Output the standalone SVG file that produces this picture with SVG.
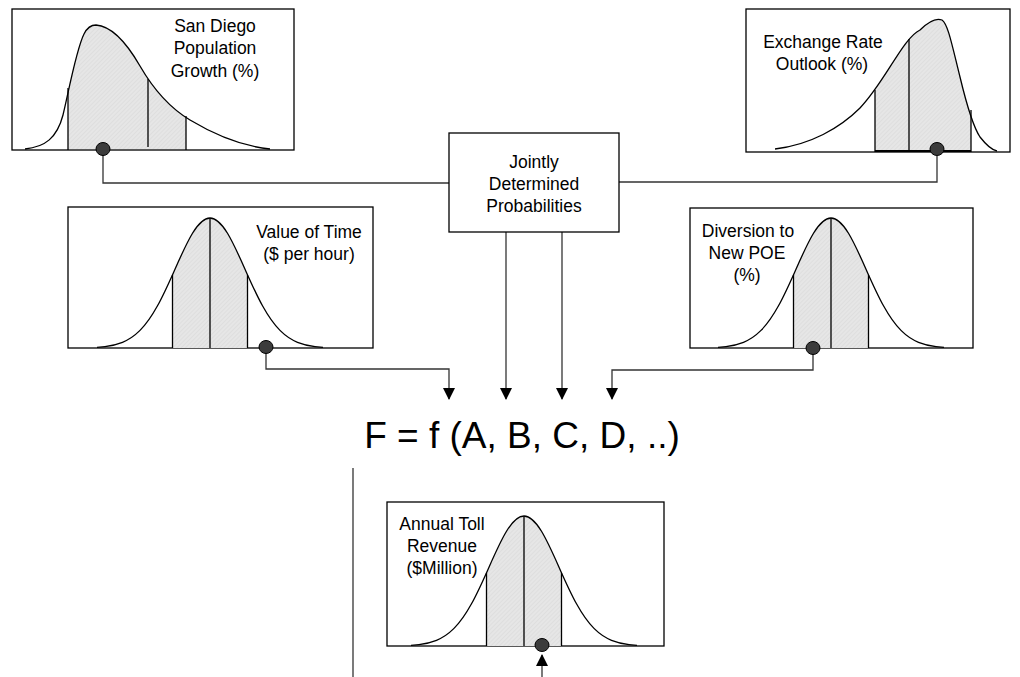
<svg xmlns="http://www.w3.org/2000/svg" width="1020" height="677" viewBox="0 0 1020 677">
<style>
.box{fill:#fff;stroke:#000;stroke-width:1.3}
.crv{fill:none;stroke:#000;stroke-width:1.3;stroke-linejoin:round}
.shade{fill:url(#hatch);stroke:none}
.vl{stroke:#000;stroke-width:1.3}
.dot{fill:#3c3c3c;stroke:#000;stroke-width:1}
.lbl{font-family:"Liberation Sans",Arial,sans-serif;font-size:17.5px;fill:#000;text-anchor:middle}
.fx{font-family:"Liberation Sans",Arial,sans-serif;font-size:37px;fill:#000;text-anchor:middle}
.con{fill:none;stroke:#333;stroke-width:1.3}
</style>
<defs>
<pattern id="hatch" patternUnits="userSpaceOnUse" width="3" height="3" patternTransform="rotate(45)">
<rect width="3" height="3" fill="#e6e6e6"/>
<line x1="0" y1="0" x2="0" y2="3" stroke="#d6d6d6" stroke-width="1"/>
</pattern>
<marker id="arr" markerWidth="12" markerHeight="12" refX="11" refY="6" orient="auto" markerUnits="userSpaceOnUse">
<path d="M0,0 L12,6 L0,12 Z" fill="#000"/>
</marker>
<path id="gc" d="M -113,-0.6 L -105,-1.44 C -99.17,-2.16 -93.33,-3.33 -87.5,-5.71 C -81.67,-8.09 -75.83,-11.73 -70,-17.59 C -64.17,-23.45 -58.33,-31.66 -52.5,-42.21 C -46.67,-52.76 -40.83,-65.71 -35,-78.85 C -29.17,-91.99 -23.33,-105.17 -17.5,-114.73 C -11.67,-124.29 -5.83,-130 0,-130 C 5.83,-130 11.67,-124.29 17.5,-114.73 C 23.33,-105.17 29.17,-91.99 35,-78.85 C 40.83,-65.71 46.67,-52.76 52.5,-42.21 C 58.33,-31.66 64.17,-23.45 70,-17.59 C 75.83,-11.73 81.67,-8.09 87.5,-5.71 C 93.33,-3.33 99.17,-2.16 105,-1.44 L 113,-0.6"/>
<path id="gf" d="M -113,-0.6 L -105,-1.44 C -99.17,-2.16 -93.33,-3.33 -87.5,-5.71 C -81.67,-8.09 -75.83,-11.73 -70,-17.59 C -64.17,-23.45 -58.33,-31.66 -52.5,-42.21 C -46.67,-52.76 -40.83,-65.71 -35,-78.85 C -29.17,-91.99 -23.33,-105.17 -17.5,-114.73 C -11.67,-124.29 -5.83,-130 0,-130 C 5.83,-130 11.67,-124.29 17.5,-114.73 C 23.33,-105.17 29.17,-91.99 35,-78.85 C 40.83,-65.71 46.67,-52.76 52.5,-42.21 C 58.33,-31.66 64.17,-23.45 70,-17.59 C 75.83,-11.73 81.67,-8.09 87.5,-5.71 C 93.33,-3.33 99.17,-2.16 105,-1.44 L 113,-0.6 L 113,0 L -113,0 Z"/>
<clipPath id="gclip"><rect x="-37.5" y="-140" width="75" height="140"/></clipPath>
<clipPath id="c1"><rect x="68" y="0" width="118" height="150"/></clipPath>
<clipPath id="c2"><rect x="875" y="0" width="96" height="152"/></clipPath>
</defs>

<g id="connectors">
<path class="con" d="M103,155 V183 H449"/>
<path class="con" d="M937,156 V182 H619"/>
<path class="con" d="M266,353 V369 H449 V399" marker-end="url(#arr)"/>
<path class="con" d="M813,354 V370 H612 V399" marker-end="url(#arr)"/>
<path class="con" d="M506,232 V399" marker-end="url(#arr)"/>
<path class="con" d="M562,232 V399" marker-end="url(#arr)"/>
<path class="con" d="M542,677 V655" marker-end="url(#arr)"/>
<path class="con" d="M353,468 V677"/>
</g>

<g id="pop-growth">
<rect class="box" x="12" y="9" width="282" height="141"/>
<path class="shade" clip-path="url(#c1)" d="M 25,149 C 45,147 57,138 63,115 C 68,95 76,50 84,34 C 88,26 92,25 96,25 C 110,26 125,40 140,66 C 155,92 170,108 190,120 C 215,135 240,146 270,149 Z"/>
<path class="crv" d="M 25,149 C 45,147 57,138 63,115 C 68,95 76,50 84,34 C 88,26 92,25 96,25 C 110,26 125,40 140,66 C 155,92 170,108 190,120 C 215,135 240,146 270,149"/>
<line class="vl" x1="68" y1="150" x2="68" y2="88"/>
<line class="vl" x1="148" y1="147" x2="148" y2="79"/>
<line class="vl" x1="186" y1="150" x2="186" y2="116"/>
<ellipse class="dot" cx="103" cy="149" rx="7" ry="6.5"/>
<text class="lbl" x="215" y="32">San Diego</text>
<text class="lbl" x="215" y="54">Population</text>
<text class="lbl" x="215" y="77">Growth (%)</text>
</g>

<g id="exchange-rate">
<rect class="box" x="746" y="9" width="264" height="143"/>
<path class="shade" clip-path="url(#c2)" d="M 775,149 C 810,145 840,128 860,108 C 885,82 903,38 920,30 C 930,20 937,18 942,20 C 948,24 952,45 960,77 C 966,102 972,125 980,137 C 987,146 992,150 997,151 Z"/>
<path class="crv" d="M 775,149 C 810,145 840,128 860,108 C 885,82 903,38 920,30 C 930,20 937,18 942,20 C 948,24 952,45 960,77 C 966,102 972,125 980,137 C 987,146 992,150 997,151"/>
<line class="vl" x1="875" y1="152" x2="875" y2="90"/>
<line class="vl" x1="909" y1="151" x2="909" y2="39"/>
<line class="vl" x1="971" y1="152" x2="971" y2="110"/>
<line x1="875" y1="151" x2="971" y2="151" stroke="#000" stroke-width="2"/>
<ellipse class="dot" cx="937" cy="149" rx="7" ry="6.5"/>
<text class="lbl" x="823" y="48">Exchange Rate</text>
<text class="lbl" x="822" y="70">Outlook (%)</text>
</g>

<g id="joint">
<rect class="box" x="449" y="133" width="170" height="99"/>
<text class="lbl" x="534" y="168">Jointly</text>
<text class="lbl" x="534" y="190">Determined</text>
<text class="lbl" x="534" y="212">Probabilities</text>
</g>

<g id="value-of-time">
<rect class="box" x="68" y="207" width="305" height="141"/>
<g transform="translate(210,348)">
<use href="#gf" class="shade" clip-path="url(#gclip)"/>
<use href="#gc" class="crv"/>
<line class="vl" x1="-37.5" y1="0" x2="-37.5" y2="-73"/>
<line class="vl" x1="0" y1="0" x2="0" y2="-130"/>
<line class="vl" x1="37.5" y1="0" x2="37.5" y2="-73"/>
</g>
<ellipse class="dot" cx="266" cy="347" rx="7" ry="6.5"/>
<text class="lbl" x="309" y="238">Value of Time</text>
<text class="lbl" x="309" y="260">($ per hour)</text>
</g>

<g id="diversion">
<rect class="box" x="690" y="208" width="283" height="140"/>
<g transform="translate(831,348)">
<use href="#gf" class="shade" clip-path="url(#gclip)"/>
<use href="#gc" class="crv"/>
<line class="vl" x1="-37.5" y1="0" x2="-37.5" y2="-73"/>
<line class="vl" x1="0" y1="0" x2="0" y2="-130"/>
<line class="vl" x1="37.5" y1="0" x2="37.5" y2="-73"/>
</g>
<ellipse class="dot" cx="813" cy="348" rx="7" ry="6.5"/>
<text class="lbl" x="748" y="237">Diversion to</text>
<text class="lbl" x="747" y="259">New POE</text>
<text class="lbl" x="747" y="281">(%)</text>
</g>

<g id="formula">
<text class="fx" x="522" y="448">F = f (A, B, C, D, ..)</text>
</g>

<g id="toll-revenue">
<rect class="box" x="387" y="502" width="277" height="144"/>
<g transform="translate(524,646)">
<use href="#gf" class="shade" clip-path="url(#gclip)"/>
<use href="#gc" class="crv"/>
<line class="vl" x1="-37.5" y1="0" x2="-37.5" y2="-73"/>
<line class="vl" x1="0" y1="0" x2="0" y2="-130"/>
<line class="vl" x1="37.5" y1="0" x2="37.5" y2="-73"/>
</g>
<ellipse class="dot" cx="542" cy="645" rx="7" ry="6.5"/>
<text class="lbl" x="442" y="530">Annual Toll</text>
<text class="lbl" x="442" y="552">Revenue</text>
<text class="lbl" x="442" y="574">($Million)</text>
</g>
</svg>
